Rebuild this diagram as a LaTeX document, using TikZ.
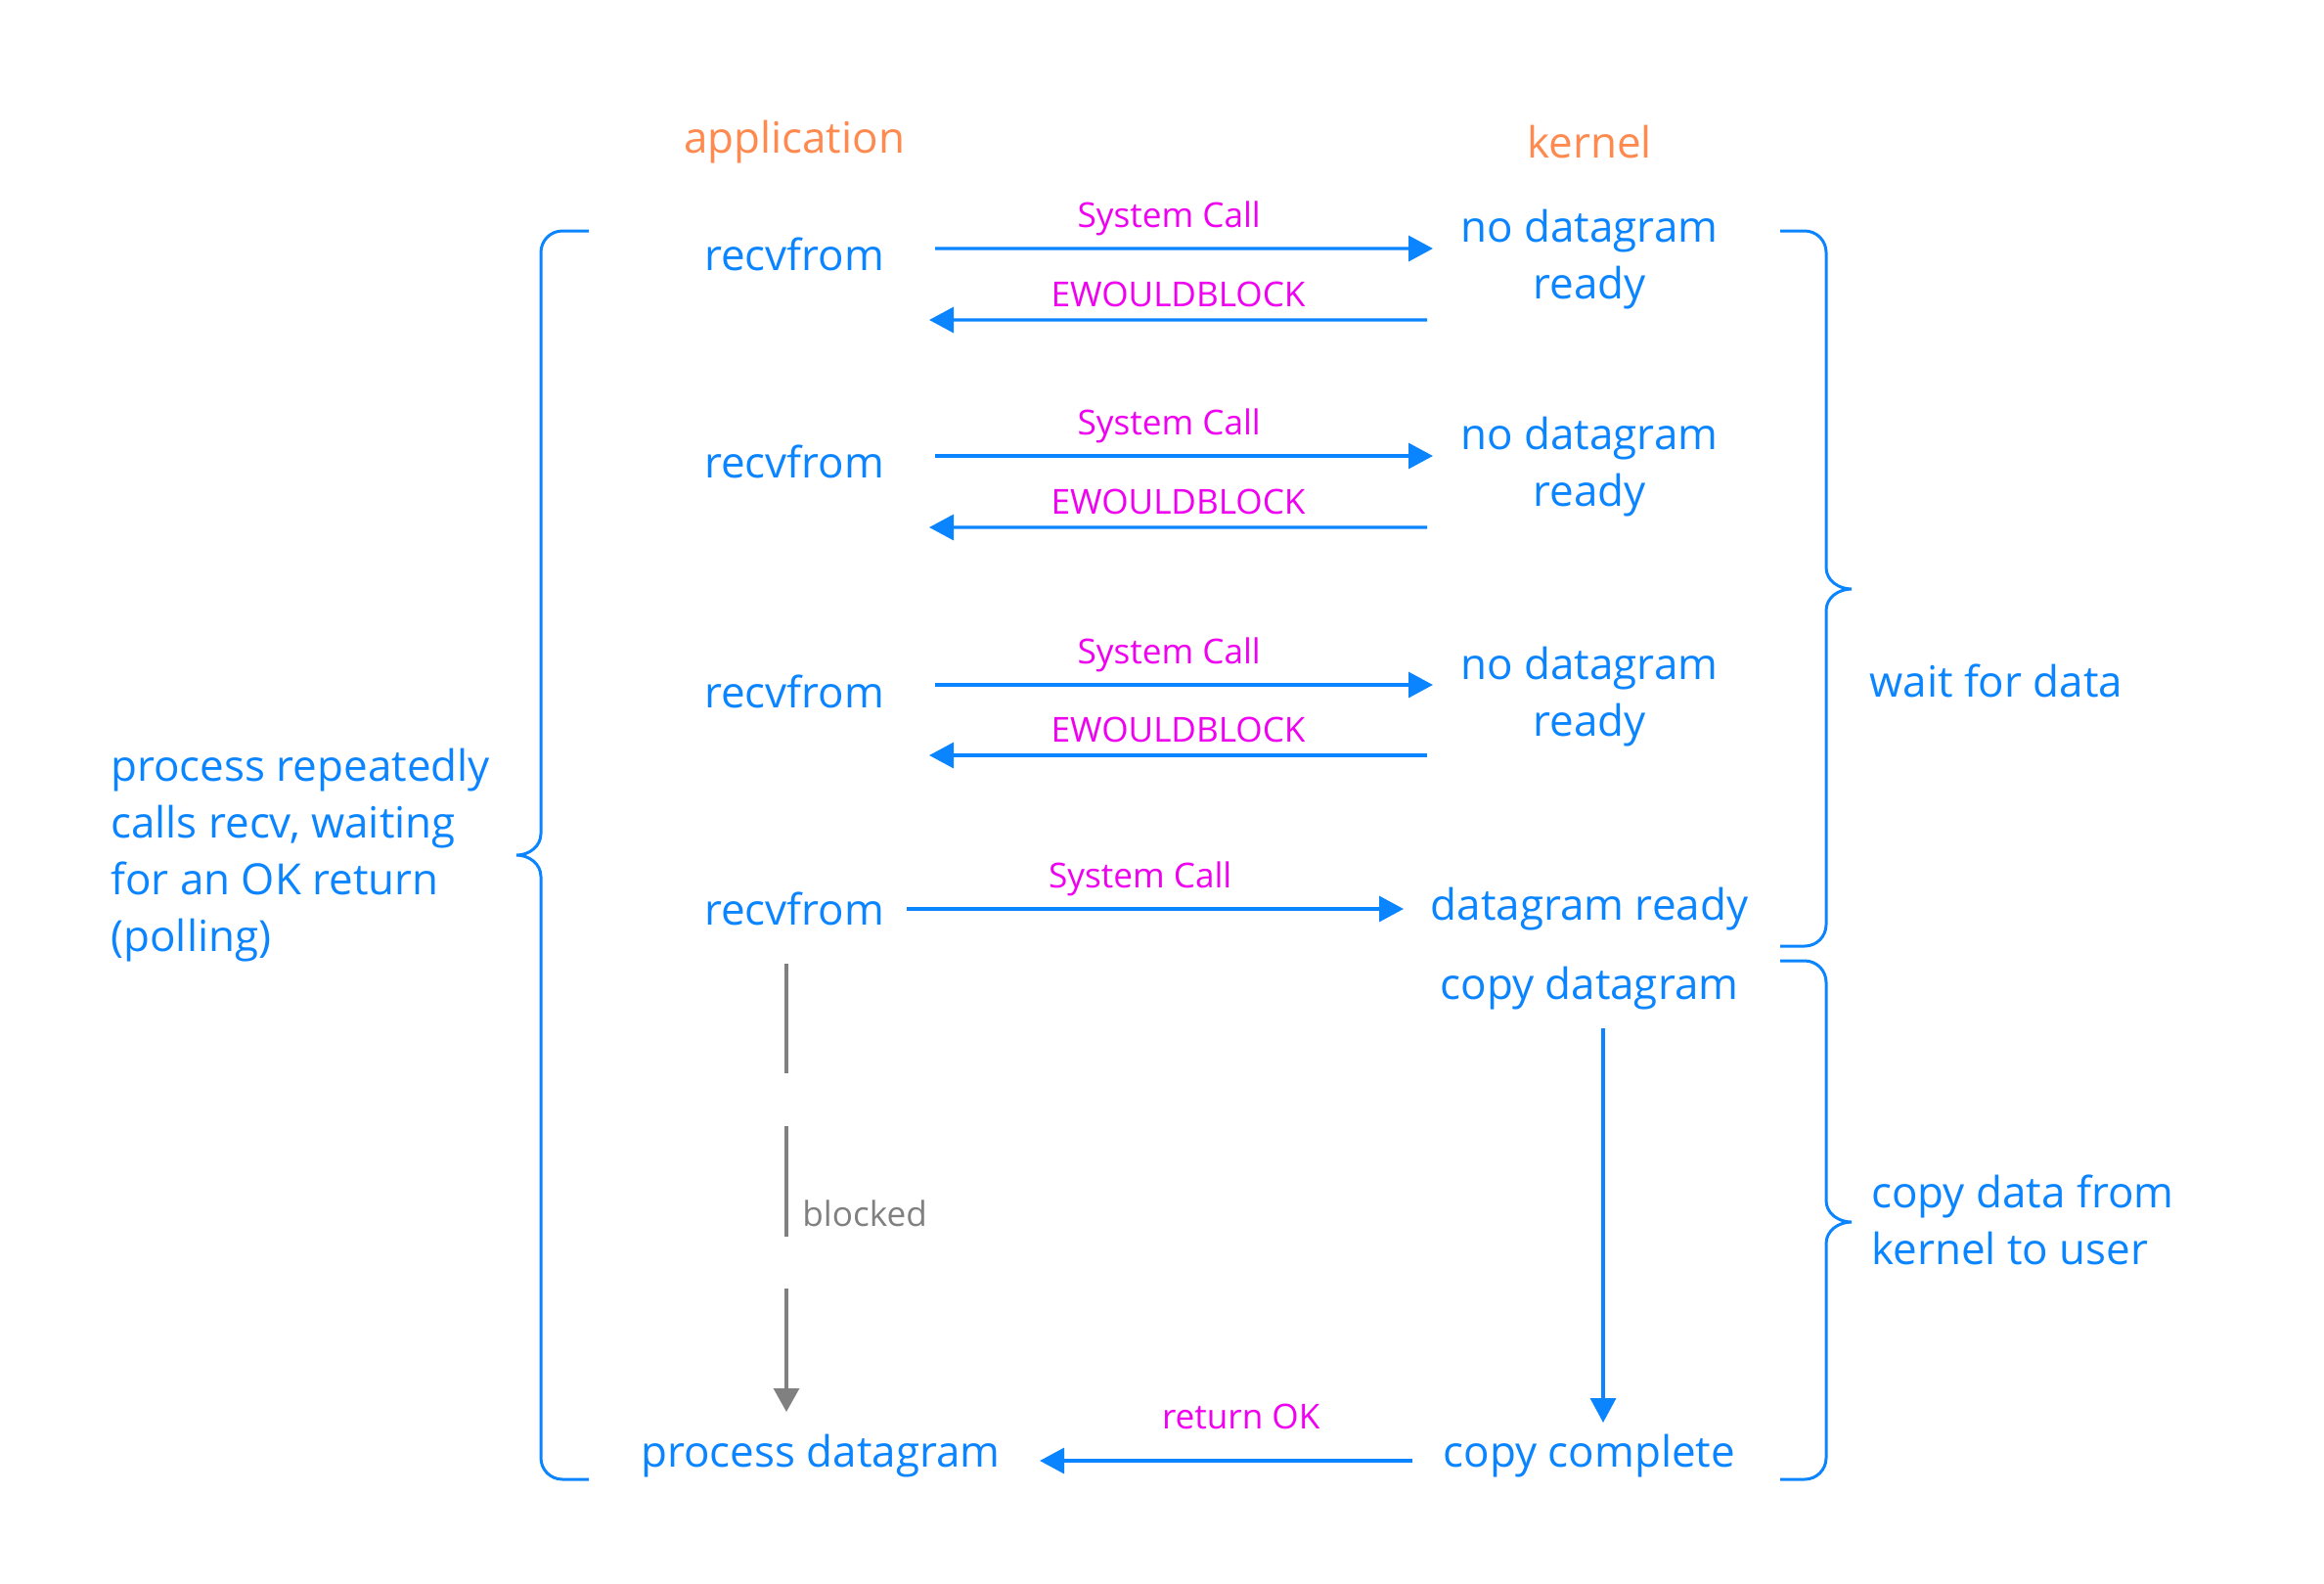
\documentclass[tikz,border=0pt]{standalone}
\usepackage{fontspec}
\setmainfont{Open Sans}
\usepackage{tikz}
\usetikzlibrary{arrows.meta, calc}
\definecolor{appblue}{HTML}{0A84FF}
\definecolor{callpink}{HTML}{F000F0}
\definecolor{headorange}{HTML}{FF8A50}
\definecolor{blockgray}{HTML}{808080}
\newcommand\bigtxt{\fontsize{12.5}{16.5}\selectfont}
\newcommand\smalltxt{\fontsize{10}{12}\selectfont}
\tikzstyle{arrow} = [line width=0.95pt, draw=appblue, -{Triangle[length=0.25cm,width=0.26cm]}]
\tikzstyle{blockarrow} = [line width=0.9pt, draw=blockgray, dash pattern=on 1.12cm off 0.54cm on 1.13cm off 0.53cm on 3cm, -{Triangle[length=0.24cm,width=0.26cm]}]
\tikzstyle{brace} = [line width=0.85pt, draw=appblue]
\tikzstyle{plain} = [text=appblue, font=\bigtxt, align=center]
\tikzstyle{note} = [text=appblue, font=\bigtxt, align=left, anchor=west]
\tikzstyle{head} = [text=headorange, font=\bigtxt]
\tikzstyle{call} = [text=callpink, font=\smalltxt]

\begin{document}
\begin{tikzpicture}
		\useasboundingbox (0,0) rectangle (23.76,-16.18);
		\node (app) [head] at (8.12,-1.45) {application};
		\node (kern) [head] at (16.25,-1.45) {kernel};
		\node (recv1) [plain] at (8.12,-2.60) {recvfrom};
		\node (nd1) [plain] at (16.25,-2.65) {no datagram\\ready};
		\node (recv2) [plain] at (8.12,-4.72) {recvfrom};
		\node (nd2) [plain] at (16.25,-4.77) {no datagram\\ready};
		\node (recv3) [plain] at (8.12,-7.07) {recvfrom};
		\node (nd3) [plain] at (16.25,-7.12) {no datagram\\ready};
		\node (recv4) [plain] at (8.12,-9.29) {recvfrom};
		\node (ready) [plain] at (16.25,-9.29) {datagram ready};
		\node (copy) [plain] at (16.25,-10.10) {copy datagram};
		\node (done) [plain] at (16.25,-14.88) {copy complete};
		\node (proc) [plain] at (8.39,-14.88) {process datagram};
		\node (poll) [note] at (1.01,-8.74) {process repeatedly\\calls recv, waiting\\for an OK return\\(polling)};
		\node (wait) [note] at (18.99,-6.96) {wait for data};
		\node (move) [note] at (19.01,-12.47) {copy data from\\kernel to user};
		\coordinate (b0) at (8.04,-9.85);
		\coordinate (b1) at (8.04,-14.43);
		% polling rounds
		\draw [arrow] ($(recv1)+(1.44,0.06)$) -- node[call, above, pos=0.47] {System Call} ($(nd1)+(-1.60,0.11)$);
		\draw [arrow] ($(nd1)+(-1.66,-0.62)$) -- node[call, above] {EWOULDBLOCK} ($(recv1)+(1.38,-0.67)$);
		\draw [arrow] ($(recv2)+(1.44,0.06)$) -- node[call, above, pos=0.47] {System Call} ($(nd2)+(-1.60,0.11)$);
		\draw [arrow] ($(nd2)+(-1.66,-0.62)$) -- node[call, above] {EWOULDBLOCK} ($(recv2)+(1.38,-0.67)$);
		\draw [arrow] ($(recv3)+(1.44,0.07)$) -- node[call, above, pos=0.47] {System Call} ($(nd3)+(-1.60,0.12)$);
		\draw [arrow] ($(nd3)+(-1.66,-0.60)$) -- node[call, above] {EWOULDBLOCK} ($(recv3)+(1.38,-0.65)$);
		\draw [arrow] ($(recv4)+(1.15,0)$) -- node[call, above, pos=0.47] {System Call} ($(ready)+(-1.90,0)$);
		% copy and return
		\draw [arrow] ($(copy)+(0.14,-0.41)$) -- ($(done)+(0.14,0.34)$);
		\draw [arrow] ($(done)+(-1.81,-0.05)$) -- node[call, above=1.9mm, pos=0.46] {return OK} ($(proc)+(2.24,-0.05)$);
		\draw [blockarrow] (b0) -- (b1);
		\node (blk) [text=blockgray, font=\smalltxt, anchor=base west] at (8.08,-12.53) {blocked};
		% braces
		\draw [brace] (6.02,-2.36) -- (5.75,-2.36) to[out=180,in=90] (5.53,-2.58) -- (5.53,-8.52) to[out=-90,in=0] (5.28,-8.74) to[out=0,in=90] (5.53,-8.96) -- (5.53,-14.90) to[out=-90,in=180] (5.75,-15.12) -- (6.02,-15.12);
		\draw [brace] (18.20,-2.36) -- (18.45,-2.36) to[out=0,in=90] (18.67,-2.58) -- (18.67,-5.80) to[out=-90,in=180] (18.93,-6.02) to[out=180,in=90] (18.67,-6.24) -- (18.67,-9.45) to[out=-90,in=0] (18.45,-9.67) -- (18.20,-9.67);
		\draw [brace] (18.20,-9.82) -- (18.45,-9.82) to[out=0,in=90] (18.67,-10.04) -- (18.67,-12.27) to[out=-90,in=180] (18.93,-12.49) to[out=180,in=90] (18.67,-12.71) -- (18.67,-14.90) to[out=-90,in=0] (18.45,-15.12) -- (18.20,-15.12);
	\end{tikzpicture}
\end{document}
